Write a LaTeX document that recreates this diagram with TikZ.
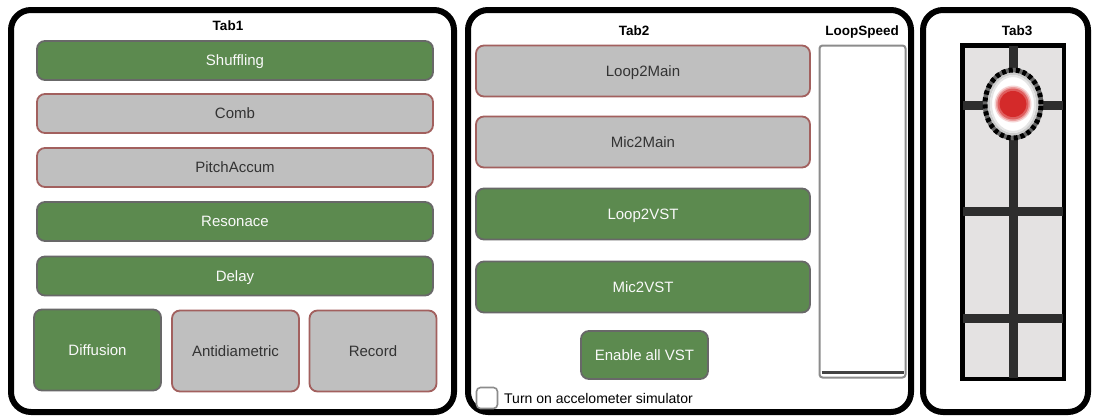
\documentclass[tikz,border=0pt]{standalone}
\usepackage{fontspec}
\setmainfont{Liberation Sans}
\definecolor{btngreen}{HTML}{5C8A4F}
\definecolor{btngreenedge}{HTML}{686868}
\definecolor{btngray}{HTML}{BFBFBF}
\definecolor{btnrededge}{HTML}{A2605E}
\definecolor{btntext}{HTML}{333333}
\definecolor{padfill}{HTML}{E4E2E2}
\definecolor{padline}{HTML}{2E2E2E}
\definecolor{sliderframe}{HTML}{8C8C8C}
\definecolor{knobred}{HTML}{D42A2A}
\tikzset{
  panel/.style={draw=black, line width=6pt, rounded corners=20pt, fill=white},
  tabtitle/.style={font=\fontsize{13.5}{15}\selectfont\bfseries, text=black, inner sep=0pt,
    text height=9.8pt, text depth=0pt},
  btnbase/.style={rounded corners=8pt, line width=1.8pt, inner sep=0pt,
    font=\fontsize{15}{17}\selectfont, text height=10.7pt, text depth=0pt},
  onbtn/.style={btnbase, fill=btngreen, draw=btngreenedge, text=white!95!gray},
  offbtn/.style={btnbase, fill=btngray, draw=btnrededge, text=btntext},
  wide/.style={minimum width=396pt, minimum height=39pt},
  wide2/.style={minimum width=334pt, minimum height=51pt},
  square/.style={minimum width=127pt, minimum height=81pt},
  gridline/.style={padline, line width=9pt},
}
\begin{document}
\begin{tikzpicture}[x=1pt, y=-1pt]
\useasboundingbox (0,0) rectangle (1094,418);
\fill[white] (0,0) rectangle (1094,418);

% ---- panels ----
\draw[panel] (11,10) rectangle (454,412);
\draw[panel] (468,10) rectangle (911,412);
\draw[panel] (923,10) rectangle (1088,412);

% ---- Tab1 ----
\node[tabtitle] (t1) at (228,26) {Tab1};
\node[onbtn, wide]  (shuf) at (235,60.5)  {Shuffling};
\node[offbtn, wide] (comb) at (235,113.5) {Comb};
\node[offbtn, wide] (pitch) at (235,167.5) {PitchAccum};
\node[onbtn, wide]  (reso) at (235,221.5) {Resonace};
\node[onbtn, wide]  (delay) at (235,276)  {Delay};
\node[onbtn, square]  (diff) at (97.5,350)  {Diffusion};
\node[offbtn, square] (anti) at (235.5,351) {Antidiametric};
\node[offbtn, square] (rec)  at (373,351)   {Record};

% ---- Tab2 ----
\node[tabtitle] (t2) at (634,31) {Tab2};
\node[tabtitle] (ls) at (862,31) {LoopSpeed};
\node[offbtn, wide2] (l2m) at (643,71)    {Loop2Main};
\node[offbtn, wide2] (m2m) at (643,142)   {Mic2Main};
\node[onbtn, wide2]  (l2v) at (643,214)   {Loop2VST};
\node[onbtn, wide2]  (m2v) at (643,287)   {Mic2VST};
\node[onbtn, minimum width=127pt, minimum height=48pt] (env) at (644.5,355) {Enable all VST};
\node[draw=sliderframe, line width=1.6pt, rounded corners=4pt, fill=white,
      minimum width=21pt, minimum height=21pt, inner sep=0pt] (chk) at (487,398) {};
\node[anchor=west, font=\fontsize{14}{16}\selectfont, text=black, inner sep=0pt,
      text height=10pt, text depth=0pt]
      (chklbl) at (504,398) {Turn on accelometer simulator};
% slider track
\node[draw=sliderframe, line width=2pt, rounded corners=3pt, fill=white,
      minimum width=86pt, minimum height=332pt, inner sep=0pt] (slider) at (862.5,211.5) {};
\draw[padline!90!white, line width=3pt] ([xshift=3pt,yshift=6pt]slider.south west) -- ([xshift=-3pt,yshift=6pt]slider.south east);

% ---- Tab3 ----
\node[tabtitle] (t3) at (1017,31) {Tab3};
\node[draw=black, line width=3pt, fill=padfill, minimum width=100pt, minimum height=332pt,
      inner sep=0pt] (pad) at (1013,212) {};
\begin{scope}
  \clip (pad.south west) rectangle (pad.north east);
  \draw[gridline] (pad.north) -- (pad.south);
  \draw[gridline] (962,211) -- (1064,211);
  \draw[gridline] (962,318) -- (1064,318);
  \draw[gridline] (962,105) -- (1064,105);
\end{scope}
\draw[black, line width=3pt] (pad.south west) rectangle (pad.north east);
% knob: white body with a soft grey rim and a dotted black edge
\coordinate (knob) at (1013,104);
\fill[white] (knob) ellipse [x radius=30pt, y radius=36pt];
\draw[black!20, line width=3pt] (knob) ellipse [x radius=24.5pt, y radius=30.5pt];
\draw[black!10, line width=2pt] (knob) ellipse [x radius=22pt, y radius=28pt];
\draw[black!60, line width=4.5pt] (knob) ellipse [x radius=28pt, y radius=34pt];
\draw[black, line width=5pt, dash pattern=on 4pt off 3pt]
  (knob) ellipse [x radius=28pt, y radius=34pt];
% red light with a soft edge
\fill[knobred!20] (knob) circle [radius=18.5pt];
\fill[knobred!45] (knob) circle [radius=17pt];
\fill[knobred!75] (knob) circle [radius=15.5pt];
\fill[knobred] (knob) ellipse [x radius=13.5pt, y radius=13pt];
\end{tikzpicture}
\end{document}
